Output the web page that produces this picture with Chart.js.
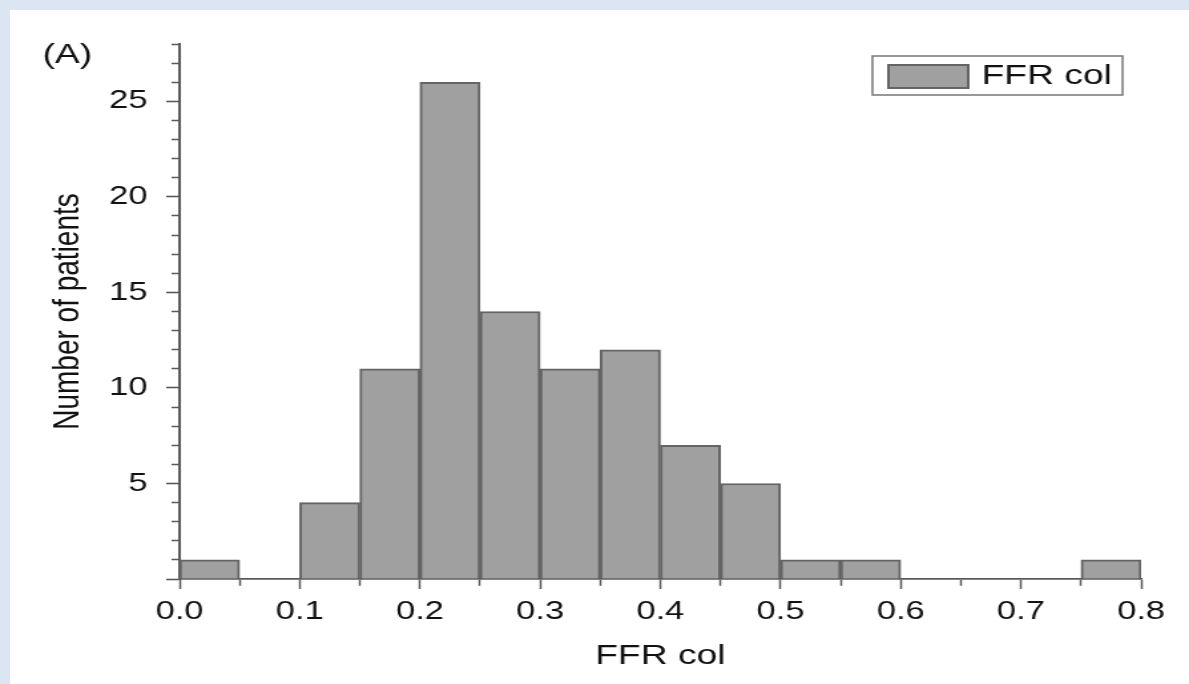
<!DOCTYPE html>
<html>
<head>
<meta charset="utf-8">
<script src="https://cdn.jsdelivr.net/npm/chart.js@4.4.1/dist/chart.umd.min.js"></script>
<style>
  html, body { margin: 0; padding: 0; }
  body { width: 1189px; height: 684px; background: #dce6f2; position: relative; overflow: hidden; }
  #panel { position: absolute; left: 10px; top: 10px; right: 0; bottom: 0; background: #fff; }
  /* the source figure is stretched sideways, so the canvas is too */
  #histogram { position: absolute; left: 0; top: 0; transform: scaleX(1.33); transform-origin: 0 0; }
</style>
</head>
<body>
<div id="panel"></div>
<canvas id="histogram" width="894" height="684"></canvas>
<script>
// FFR col histogram, bins of 0.05
const binCenters = [0.025, 0.075, 0.125, 0.175, 0.225, 0.275, 0.325, 0.375,
                    0.425, 0.475, 0.525, 0.575, 0.625, 0.675, 0.725, 0.775];
const patientCounts = [1, 0, 4, 11, 26, 14, 11, 12, 7, 5, 1, 1, 0, 0, 0, 1];
const xTickLabels = ["0.0", "0.1", "0.2", "0.3", "0.4", "0.5", "0.6", "0.7", "0.8"];
const yTickLabels = [5, 10, 15, 20, 25];

const textColor = "#111";
const axisColor = "#5a5a5a";
const fontFamily = "'Liberation Sans', Arial, sans-serif";

// legend box and panel letter sit inside the plot area
const extrasPlugin = {
  id: "extras",
  afterDraw(chart) {
    const { ctx, chartArea } = chart;
    const ds = chart.data.datasets[0];
    const boxRight = chartArea.right - 14;
    const boxLeft = boxRight - 188;
    const boxTop = chartArea.top + 12;
    const boxH = 39;
    ctx.save();
    ctx.lineWidth = 1.5;
    ctx.strokeStyle = "#777";
    ctx.strokeRect(boxLeft, boxTop, boxRight - boxLeft, boxH);
    ctx.fillStyle = ds.backgroundColor;
    ctx.fillRect(boxLeft + 11, boxTop + 8, 62, 25);
    ctx.lineWidth = 2;
    ctx.strokeStyle = ds.borderColor;
    ctx.strokeRect(boxLeft + 12, boxTop + 9, 60, 23);
    ctx.fillStyle = textColor;
    ctx.font = "28px " + fontFamily;
    ctx.textBaseline = "middle";
    ctx.textAlign = "left";
    ctx.fillText(ds.label, boxLeft + 82, boxTop + boxH / 2 + 1);
    ctx.fillText("(A)", 32, 55);
    ctx.restore();
  },
};

new Chart(document.getElementById("histogram"), {
  type: "bar",
  data: {
    datasets: [
      {
        label: "FFR col",
        data: binCenters.map((x, i) => ({ x: x, y: patientCounts[i] })),
        backgroundColor: "#a0a0a0",
        borderColor: "#646464",
        borderWidth: 2,
        barPercentage: 1,
        categoryPercentage: 1,
      },
    ],
  },
  options: {
    responsive: false,
    devicePixelRatio: 1,
    animation: false,
    layout: { padding: { top: 44, right: 36, bottom: 0, left: 0 } },
    plugins: { legend: { display: false }, tooltip: { enabled: false } },
    scales: {
      x: {
        type: "linear",
        min: 0,
        max: 0.8,
        offset: false,
        afterFit: (scale) => { scale.height = 105; },
        border: { display: true, color: axisColor, width: 1.8 },
        grid: {
          offset: false,
          drawOnChartArea: false,
          drawTicks: true,
          tickLength: 10,
          tickWidth: 1.5,
          tickColor: axisColor,
          tickBorderDash: (c) => (c.index % 2 ? [6, 100] : []),
        },
        ticks: {
          stepSize: 0.05,
          autoSkip: false,
          maxRotation: 0,
          padding: 7,
          color: textColor,
          font: { family: fontFamily, size: 26 },
          callback: (value, index) => (index % 2 ? "" : xTickLabels[index / 2]),
        },
        title: {
          display: true,
          text: "FFR col",
          color: textColor,
          font: { family: fontFamily, size: 28 },
          padding: { top: 0, bottom: 11 },
        },
      },
      y: {
        min: 0,
        max: 28,
        afterFit: (scale) => { scale.width = 135; },
        border: { display: true, color: axisColor, width: 2 },
        grid: {
          drawOnChartArea: false,
          drawTicks: true,
          tickLength: 10,
          tickWidth: 1.6,
          tickColor: axisColor,
          tickBorderDash: (c) => (c.tick && c.tick.value % 5 === 0 ? [] : [0, 4, 6, 100]),
        },
        ticks: {
          stepSize: 1,
          autoSkip: false,
          padding: 14,
          color: textColor,
          font: { family: fontFamily, size: 26 },
          callback: (value) => (yTickLabels.includes(value) ? String(value) : ""),
        },
        title: {
          display: true,
          text: "Number of patients",
          color: textColor,
          font: { family: fontFamily, size: 28 },
          padding: { top: 34, bottom: 0 },
        },
      },
    },
  },
  plugins: [extrasPlugin],
});
</script>
</body>
</html>
